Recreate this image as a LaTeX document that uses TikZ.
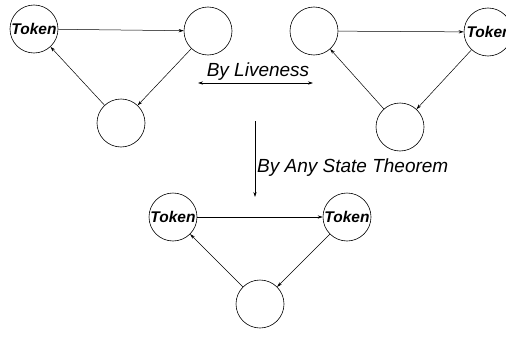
\documentclass[tikz,border=0pt]{standalone}
\usepackage{fontspec}
\setmainfont{Liberation Sans}
\usetikzlibrary{arrows.meta}
\begin{document}
\begin{tikzpicture}[x=1pt,y=-1pt,
  place/.style={circle,draw,line width=0.6pt,minimum size=48pt,inner sep=0pt},
  tok/.style={font=\fontsize{15.5}{16}\selectfont\bfseries\itshape},
  flow/.style={line width=0.5pt,-{Stealth[length=5pt,width=3.2pt]}},
  lbl/.style={font=\fontsize{19}{20}\selectfont\itshape,inner sep=0pt}]
\useasboundingbox (0,0) rectangle (506,340);
% first marking: token on the left place
\node[place] (a1) at (34,29) {};
\node[tok] at (a1) {Token};
\node[place] (b1) at (208,31) {};
\node[place] (c1) at (121,123) {};
\draw[flow] (a1) -- (b1);
\draw[flow] (b1) -- (c1);
\draw[flow] (c1) -- (a1);
% second marking: token moved to the right place
\node[place] (a2) at (314,31) {};
\node[place] (b2) at (488,32) {};
\node[tok,anchor=west] at (463,32) {Token};
\node[place] (c2) at (400,127) {};
\draw[flow] (a2) -- (b2);
\draw[flow] (b2) -- (c2);
\draw[flow] (c2) -- (a2);
% third marking: two tokens
\node[place] (a3) at (173,217) {};
\node[tok] at (a3) {Token};
\node[place] (b3) at (347,217) {};
\node[tok] at (b3) {Token};
\node[place] (c3) at (260,304) {};
\draw[flow] (a3) -- (b3);
\draw[flow] (b3) -- (c3);
\draw[flow] (c3) -- (a3);
% reachability by liveness
\coordinate (l1) at (198,83);
\coordinate (l2) at (313,83);
\draw[flow,{Stealth[length=5pt,width=3.2pt]}-{Stealth[length=5pt,width=3.2pt]}] (l1) -- (l2);
\node[lbl,anchor=base] (live) at (258,76) {By Liveness};
% derivation by the any state theorem
\coordinate (v1) at (255,121);
\coordinate (v2) at (255,197);
\draw[flow] (v1) -- (v2);
\node[lbl,anchor=base west] (thm) at (257,172) {By Any State Theorem};
\end{tikzpicture}
\end{document}
